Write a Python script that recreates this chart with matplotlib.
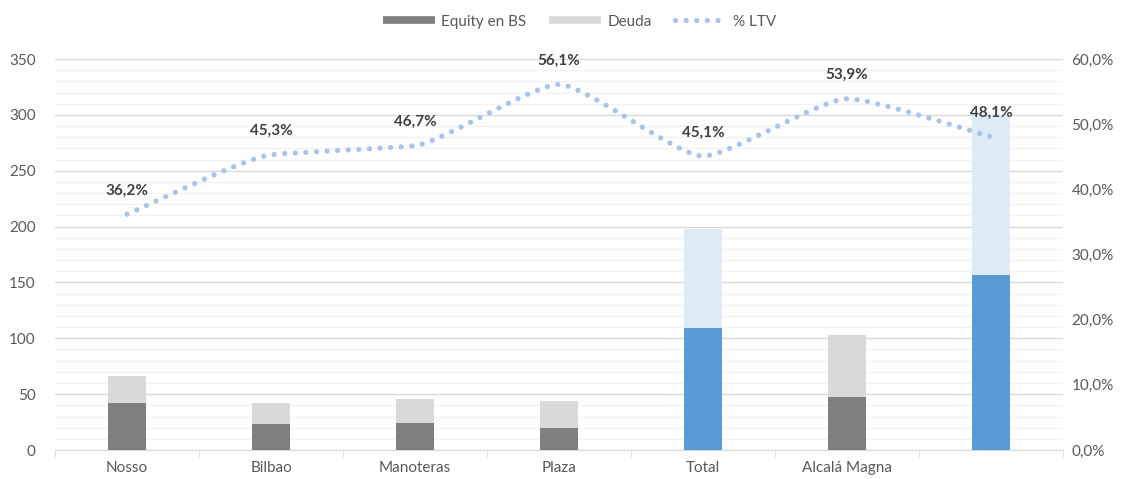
import numpy as np
import matplotlib
matplotlib.use("Agg")
import matplotlib.pyplot as plt
from matplotlib.path import Path
from matplotlib.patches import PathPatch
from matplotlib.lines import Line2D
from matplotlib.ticker import MultipleLocator, FuncFormatter

plt.rcParams['font.family'] = ['Lato', 'DejaVu Sans']

# data
categories = ['Nosso', 'Bilbao', 'Manoteras', 'Plaza', 'Total', 'Alcalá Magna', '']
equity = [42.0, 23.0, 24.5, 19.3, 108.8, 47.5, 156.3]
deuda = [24.0, 19.0, 21.5, 24.7, 89.2, 55.5, 144.7]
ltv = [36.2, 45.3, 46.7, 56.1, 45.1, 53.9, 48.1]
ltv_labels = ['36,2%', '45,3%', '46,7%', '56,1%', '45,1%', '53,9%', '48,1%']
highlight = [False, False, False, False, True, False, True]

gray_dark = '#7F7F7F'
gray_light = '#D9D9D9'
blue_dark = '#5B9BD5'
blue_light = '#DDEBF7'
line_col = '#A9C4E8'
txt = '#595959'
dots = (0, (0.01, 2.0))

fig = plt.figure(figsize=(11.25, 4.79), dpi=100)
ax = fig.add_axes([0.0489, 0.0605, 0.896, 0.8163])
ax2 = ax.twinx()

x = np.arange(len(categories))
c_eq = [blue_dark if h else gray_dark for h in highlight]
c_de = [blue_light if h else gray_light for h in highlight]
ax.bar(x, equity, width=0.27, color=c_eq, zorder=3)
ax.bar(x, deuda, bottom=equity, width=0.27, color=c_de, zorder=3)

ax.set_xlim(-0.5, len(categories) - 0.5)
ax.set_ylim(0, 350)
ax.yaxis.set_major_locator(MultipleLocator(50))
ax.yaxis.set_minor_locator(MultipleLocator(10))
ax.grid(which='major', axis='y', color='#D9D9D9', lw=1, zorder=0)
ax.grid(which='minor', axis='y', color='#F2F2F2', lw=1, zorder=0)
ax.set_axisbelow(True)
for s in ['top', 'right', 'left']:
    ax.spines[s].set_visible(False)
ax.spines['bottom'].set_color('#D9D9D9')
ax.tick_params(axis='y', which='both', length=0, labelsize=11, labelcolor=txt, pad=14)
ax.set_xticks(x)
ax.set_xticklabels(categories)
ax.tick_params(axis='x', which='major', length=0, labelsize=11, labelcolor=txt, pad=8)
ax.set_xticks(np.arange(len(categories) + 1) - 0.5, minor=True)
ax.tick_params(axis='x', which='minor', length=5, color='#D9D9D9', direction='out')

# smoothed LTV line: monotone tangents, short bezier handles
ax2.set_ylim(0, 60)
y = np.array(ltv, dtype=float)
d = np.diff(y)
m = np.zeros_like(y)
m[0], m[-1] = d[0], d[-1]
for i in range(1, len(y) - 1):
    if d[i - 1] * d[i] > 0:
        m[i] = 2 * d[i - 1] * d[i] / (d[i - 1] + d[i])
h = 0.18
verts = [(x[0], y[0])]
codes = [Path.MOVETO]
for i in range(len(y) - 1):
    verts += [(x[i] + h, y[i] + m[i] * h),
              (x[i + 1] - h, y[i + 1] - m[i + 1] * h),
              (x[i + 1], y[i + 1])]
    codes += [Path.CURVE4] * 3
patch = PathPatch(Path(verts, codes), fill=False, edgecolor=line_col, lw=3.8,
                  linestyle=dots, capstyle='round', zorder=4)
ax2.add_patch(patch)
for xi, yi, lab in zip(x, ltv, ltv_labels):
    ax2.annotate(lab, (xi, yi), xytext=(0, 12), textcoords='offset points',
                 ha='center', va='bottom', fontsize=11, fontweight='bold', color='#404040')

ax2.yaxis.set_major_locator(MultipleLocator(10))
ax2.yaxis.set_major_formatter(FuncFormatter(lambda v, p: f'{v:.1f}%'.replace('.', ',')))
ax2.tick_params(axis='y', length=0, labelsize=11, labelcolor=txt, pad=6)
for s in ax2.spines.values():
    s.set_visible(False)

handles = [
    Line2D([], [], color=gray_dark, lw=5.5, solid_capstyle='butt'),
    Line2D([], [], color=gray_light, lw=5.5, solid_capstyle='butt'),
    Line2D([], [], color=line_col, lw=3.8, linestyle=dots, dash_capstyle='round'),
]
fig.legend(handles, ['Equity en BS', 'Deuda', '% LTV'], loc='center', bbox_to_anchor=(0.515, 0.955),
           ncol=3, frameon=False, fontsize=11, handlelength=3.4, columnspacing=1.5,
           handletextpad=0.4, labelcolor=txt)

fig.savefig('out.png', dpi=100)
